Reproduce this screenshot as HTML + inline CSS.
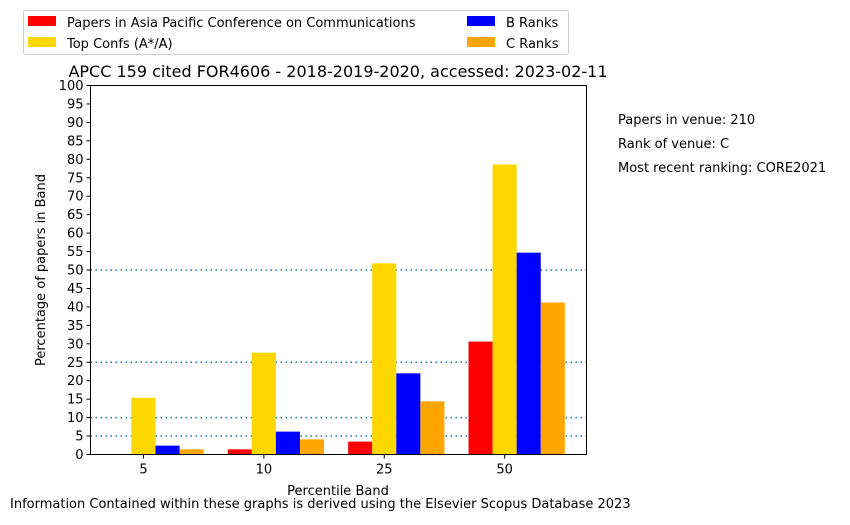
<!DOCTYPE html>
<html><head><meta charset="utf-8"><style>
body{margin:0;background:#fff;}
svg text{font-family:"DejaVu Sans","Liberation Sans",sans-serif;fill:#000;}
</style></head><body>
<svg id="chart" width="850" height="520" viewBox="0 0 850 520">
<g>
<rect x="23.5" y="10.5" width="545" height="44" fill="#fff" stroke="#ccc" rx="2"/>
<rect x="28" y="16" width="28" height="10" fill="#ff0000"/>
<text x="67" y="27" font-size="13">Papers in Asia Pacific Conference on Communications</text>
<rect x="28" y="37" width="28" height="10" fill="#ffd700"/>
<text x="67" y="48" font-size="13">Top Confs (A*/A)</text>
<rect x="467" y="16" width="28" height="10" fill="#0000ff"/>
<text x="506" y="27" font-size="13">B Ranks</text>
<rect x="467" y="37" width="28" height="10" fill="#ffa500"/>
<text x="506" y="48" font-size="13">C Ranks</text>
</g>
<text x="338" y="77" font-size="16" text-anchor="middle">APCC 159 cited FOR4606 - 2018-2019-2020, accessed: 2023-02-11</text>
<g id="ticks"></g>
<g id="grid"></g>
<g id="bars"></g>
<rect x="90.5" y="85.5" width="496" height="369" fill="none" stroke="#000" stroke-width="1"/>
<text x="338" y="495" font-size="13" text-anchor="middle">Percentile Band</text>
<text transform="translate(45,270) rotate(-90)" font-size="13" text-anchor="middle">Percentage of papers in Band</text>
<text x="618" y="124" font-size="13">Papers in venue: 210</text>
<text x="618" y="148" font-size="13">Rank of venue: C</text>
<text x="618" y="172" font-size="13">Most recent ranking: CORE2021</text>
<text x="10" y="508" font-size="13">Information Contained within these graphs is derived using the Elsevier Scopus Database 2023</text>
</svg>
<script>
const categories = ["5","10","25","50"];
const venueVals = [0, 1.4, 3.5, 30.6];
const topVals = [15.4, 27.6, 51.8, 78.6];
const bVals = [2.4, 6.2, 22.0, 54.7];
const cVals = [1.4, 4.1, 14.4, 41.2];
const yTicks = [0,5,10,15,20,25,30,35,40,45,50,55,60,65,70,75,80,85,90,95,100];
const refLines = [5,10,25,50];

const NS="http://www.w3.org/2000/svg";
const X0=90.5,X1=586.5,Y0=454.5,Y1=85.5,XMIN=-0.44,XMAX=3.68;
const xs=v=>X0+(v-XMIN)/(XMAX-XMIN)*(X1-X0);
const ys=v=>Y0-v/100*(Y0-Y1);
function mk(t,a,p){const e=document.createElementNS(NS,t);for(const k in a)e.setAttribute(k,a[k]);p.appendChild(e);return e;}
const tg=document.getElementById('ticks'),gg=document.getElementById('grid'),bg=document.getElementById('bars');
yTicks.forEach(v=>{
 const l=mk('line',{x1:X0-4,x2:X0,y1:ys(v),y2:ys(v),stroke:'#000'},tg);
 
 
 const t=mk('text',{x:X0-7,y:ys(v)+4.5,'font-size':13,'text-anchor':'end'},tg);t.textContent=v;
 
 
});
categories.forEach((c,i)=>{
 const l=mk('line',{x1:xs(i),x2:xs(i),y1:Y0,y2:Y0+4,stroke:'#000'},tg);
 
 
 const t=mk('text',{x:xs(i),y:Y0+19,'font-size':13,'text-anchor':'middle'},tg);t.textContent=c;
 
 
});
const series=[[venueVals,'#ff0000',-0.2,'venue'],[topVals,'#ffd700',0,'top'],[bVals,'#0000ff',0.2,'b'],[cVals,'#ffa500',0.4,'c']];
const w=0.2;
series.forEach(([vals,col,off,nm])=>{
 vals.forEach((v,i)=>{
  const xl=xs(i+off-w/2),xr=xs(i+off+w/2);
  const r=mk('rect',{x:xl,y:ys(v),width:xr-xl,height:ys(0)-ys(v),fill:col},bg);
  
  
 });
});
refLines.forEach(v=>{
 const l=mk('line',{x1:X0,x2:X1,y1:ys(v),y2:ys(v),stroke:'#1f77b4','stroke-width':1.5,'stroke-dasharray':'1.5,3.5'},gg);
 
 
});
</script>
</body></html>
